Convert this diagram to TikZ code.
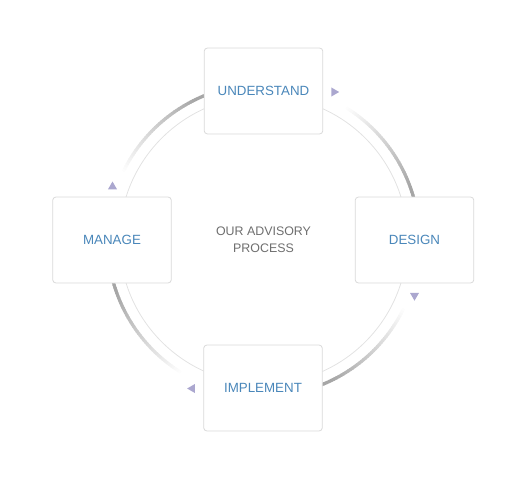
\documentclass[tikz,border=0pt]{standalone}
\usepackage{fontspec}
\setmainfont{Liberation Sans}
\usepackage{xcolor}
\usepackage{tikz}
\usetikzlibrary{shapes.geometric,calc}
\definecolor{stageblue}{HTML}{4A87BA}
\definecolor{stageborder}{HTML}{DADADA}
\definecolor{ringgray}{HTML}{E2E2E2}
\definecolor{arcgray}{HTML}{A6A6A6}
\definecolor{triviolet}{HTML}{ABA7CF}
\definecolor{centergray}{HTML}{6E6E6E}

\begin{document}
\begin{tikzpicture}[x=0.75pt,y=0.75pt]
  \tikzset{stage box/.style={draw=stageborder,line width=0.6pt,fill=white,rounded corners=2.5pt,minimum width=89pt,minimum height=64.5pt,text=stageblue,font=\fontsize{10}{12}\selectfont},
  stage tri/.style={fill=triviolet,regular polygon,regular polygon sides=3,minimum size=7.8pt,inner sep=0pt}}%

  \useasboundingbox (0,0) rectangle (527,479);
  \coordinate (c) at (263.5,239);

  \draw[ringgray,line width=0.6pt] (c) circle[radius=144];
  \foreach \a in {16,112,196,292}{
    \foreach \i in {0,...,41}{
      \pgfmathsetmacro\arcang{\a+42-\i}
      \pgfmathsetmacro\arcend{\a+42-\i-1.3}
      \pgfmathtruncatemacro\arcpct{min(100,(\i+1)*2.6)}
      \draw[arcgray!\arcpct!white,line width=2.4pt] (c) ++(\arcang:156) arc[start angle=\arcang,end angle=\arcend,radius=156];
    }
  }

  \node[align=center,text=centergray,font=\fontsize{9.3}{12.75}\selectfont] (title) at (c) {OUR ADVISORY\\PROCESS};

  \node[stage box] (understand) at (263.5,388) {UNDERSTAND};
  \node[stage box] (design) at (414.5,239) {DESIGN};
  \node[stage box] (implement) at (263,91) {IMPLEMENT};
  \node[stage box] (manage) at (112,239) {MANAGE};

  \node[stage tri,rotate=-90] (toDesign) at (334,387) {};
  \node[stage tri,rotate=180] (toImplement) at (414.5,183.5) {};
  \node[stage tri,rotate=90] (toManage) at (192.3,90.5) {};
  \node[stage tri] (toUnderstand) at (112.5,292.3) {};
\end{tikzpicture}
\end{document}
